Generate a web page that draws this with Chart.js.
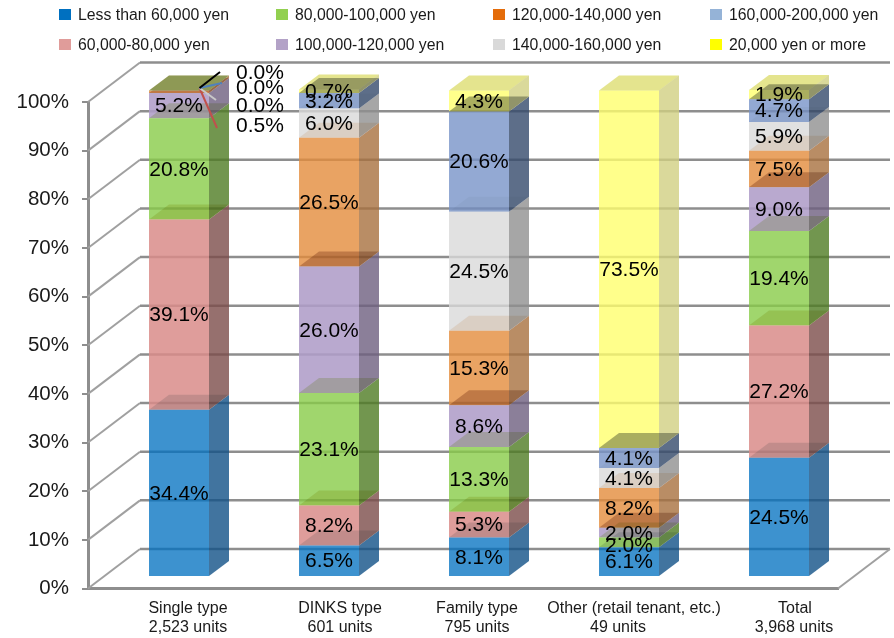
<!DOCTYPE html>
<html>
<head>
<meta charset="utf-8">
<title>Rent distribution by unit type</title>
<script src="https://cdn.jsdelivr.net/npm/chart.js@4"></script>
<style>
  html, body { margin: 0; padding: 0; background: #fff; }
  canvas { display: block; }
</style>
</head>
<body>
<canvas id="rentChart" width="894" height="638"></canvas>
<script>
// Unit types and the two-line captions under each column
const categories = ['Single type', 'DINKS type', 'Family type', 'Other (retail tenant, etc.)', 'Total'];
const unitCounts = ['2,523 units', '601 units', '795 units', '49 units', '3,968 units'];

const rentBands = [
    'Less than 60,000 yen', '60,000-80,000 yen', '80,000-100,000 yen', '100,000-120,000 yen',
    '120,000-140,000 yen', '140,000-160,000 yen', '160,000-200,000 yen', '20,000 yen or more'
];

// Share of units per rent band, in percent, one value per unit type
const lessThan60k = [34.4, 6.5, 8.1, 6.1, 24.5];
const from60kTo80k = [39.1, 8.2, 5.3, 0.0, 27.2];
const from80kTo100k = [20.8, 23.1, 13.3, 2.0, 19.4];
const from100kTo120k = [5.2, 26.0, 8.6, 2.0, 9.0];
const from120kTo140k = [0.5, 26.5, 15.3, 8.2, 7.5];
const from140kTo160k = [0.0, 6.0, 24.5, 4.1, 5.9];
const from160kTo200k = [0.0, 3.2, 20.6, 4.1, 4.7];
const orMore = [0.0, 0.7, 4.3, 73.5, 1.9];
const bandValues = [lessThan60k, from60kTo80k, from80kTo100k, from100kTo120k,
    from120kTo140k, from140kTo160k, from160kTo200k, orMore];

const yTicks = [0, 10, 20, 30, 40, 50, 60, 70, 80, 90, 100];

// Colours, bottom band first
const swatchColors = ['#0070c0', '#e09c9a', '#92d050', '#b3a2c7', '#e46c0a', '#d9d9d9', '#95b3d7', '#ffff00'];
const frontColors = ['rgba(0,112,192,.76)', 'rgba(217,140,138,.85)', 'rgba(136,204,72,.8)', 'rgba(175,157,200,.88)',
    'rgba(228,140,60,.8)', 'rgba(217,217,217,.8)', 'rgba(120,148,200,.8)', 'rgba(255,255,110,.8)'];
const sideColors = ['rgba(17,81,135,.8)', 'rgba(124,76,74,.8)', 'rgba(79,124,35,.8)', 'rgba(110,95,128,.8)',
    'rgba(167,112,62,.8)', 'rgba(144,144,144,.8)', 'rgba(52,74,107,.8)', 'rgba(209,207,130,.8)'];
// Top faces are multiplied over whatever sits behind them
const topColors = ['rgb(222,227,229)', 'rgb(237,231,194)', 'rgb(224,237,199)', 'rgb(209,189,179)',
    'rgb(247,235,222)', 'rgb(247,247,247)', 'rgb(170,174,174)', 'rgb(228,228,142)'];
const emptyTopColor = 'rgb(142,153,85)';

const FONT = '"Liberation Sans", Arial, sans-serif';
const GRID = '#8e8e8e';

// Depth of the box, and of each column inside it
const wallDx = 52, wallDy = 39.5;
const barShiftX = 16, barShiftY = -11.5;
const barDx = 20, barDy = 15;

// Legend is two rows, filled column by column
const legendColumns = [59, 276, 493, 710];
const legendRows = [15, 45];

// Caption offsets from the column centre: [first line, second line]
const captionNudge = [[25, 25], [27, 27], [14, 14], [21, 5], [32, 31]];

// Callouts for the thin bands on top of the single type column
const calloutOrigin = [199.5, 88];
const callouts = [
    { band: 4, text: [260, 126], end: [217, 128], color: '#c0504d' },
    { band: 5, text: [260, 106], end: [216, 100], color: '#c8c8c8' },
    { band: 6, text: [260, 88], end: [222, 83], color: '#4f81bd' },
    { band: 7, text: [260, 73], end: [220, 72], color: '#000000' }
];

function poly(ctx, pts) {
    ctx.beginPath();
    pts.forEach((p, i) => i ? ctx.lineTo(p[0], p[1]) : ctx.moveTo(p[0], p[1]));
    ctx.closePath();
}

function line(ctx, x1, y1, x2, y2) {
    ctx.beginPath();
    ctx.moveTo(x1, y1);
    ctx.lineTo(x2, y2);
    ctx.stroke();
}

// White page, chart box lines and the sides of the columns go under the bars
const boxPlugin = {
    id: 'box3d',
    beforeDraw(chart) {
        const ctx = chart.ctx;
        ctx.save();
        ctx.fillStyle = '#fff';
        ctx.fillRect(0, 0, chart.width, chart.height);

        ctx.font = '15.8px ' + FONT;
        ctx.textBaseline = 'middle';
        ctx.textAlign = 'left';
        rentBands.forEach((name, i) => {
            const col = legendColumns[Math.floor(i / 2)];
            const y = legendRows[i % 2];
            ctx.fillStyle = swatchColors[i];
            ctx.fillRect(col, y - 6, 12, 11);
            ctx.fillStyle = '#1a1a1a';
            ctx.fillText(name, col + 19, y + 1);
        });
        ctx.restore();
    },
    beforeDatasetsDraw(chart) {
        const ctx = chart.ctx;
        const area = chart.chartArea;
        const yScale = chart.scales.y;
        ctx.save();
        yTicks.forEach(v => {
            const y = yScale.getPixelForValue(v);
            ctx.lineWidth = 2;
            ctx.strokeStyle = '#a0a0a0';
            line(ctx, area.left, y, area.left + wallDx, y - wallDy);
            ctx.lineWidth = 2.5;
            ctx.strokeStyle = GRID;
            line(ctx, area.left + wallDx, y - wallDy, area.right + wallDx, y - wallDy);
        });
        ctx.lineWidth = 2;
        ctx.strokeStyle = '#a0a0a0';
        line(ctx, area.right, area.bottom, area.right + wallDx, area.bottom - wallDy);

        // Side faces
        chart.data.datasets.forEach((ds, i) => {
            chart.getDatasetMeta(i).data.forEach(bar => {
                if (bar.height <= 0) return;
                const x = bar.x + bar.width / 2 + barShiftX;
                const top = bar.y + barShiftY;
                const bottom = bar.base + barShiftY;
                ctx.fillStyle = sideColors[i];
                poly(ctx, [[x, top], [x + barDx, top - barDy], [x + barDx, bottom - barDy], [x, bottom]]);
                ctx.fill();
            });
        });

        // Front faces come from the bar elements, moved into the box
        ctx.restore();
        ctx.save();
        ctx.translate(barShiftX, barShiftY);
    },
    afterDatasetsDraw(chart) {
        const ctx = chart.ctx;
        ctx.restore();
        ctx.save();
        const count = chart.data.datasets.length;
        chart.data.datasets.forEach((ds, i) => {
            chart.getDatasetMeta(i).data.forEach((bar, j) => {
                const empty = ds.data[j] === 0;
                if (empty && i < count - 1) return;
                const left = bar.x - bar.width / 2 + barShiftX;
                const right = left + bar.width;
                const top = bar.y + barShiftY;
                ctx.globalCompositeOperation = empty ? 'source-over' : 'multiply';
                ctx.fillStyle = empty ? emptyTopColor : topColors[i];
                poly(ctx, [[left, top], [right, top], [right + barDx, top - barDy], [left + barDx, top - barDy]]);
                ctx.fill();
            });
        });
        ctx.restore();
    },
    afterDraw(chart) {
        const ctx = chart.ctx;
        const xScale = chart.scales.x;
        ctx.save();

        // Value labels centred on each front face
        ctx.font = '21px ' + FONT;
        ctx.fillStyle = '#000';
        ctx.textAlign = 'center';
        ctx.textBaseline = 'middle';
        chart.data.datasets.forEach((ds, i) => {
            chart.getDatasetMeta(i).data.forEach((bar, j) => {
                const value = ds.data[j];
                if (j === 0 && i >= 4) return;
                if (value === 0) return;
                const p = bar.getCenterPoint();
                // the two 2.0% labels in the other column sit a little apart
                const apart = j === 3 && i === 2 ? 3 : 0;
                ctx.fillText(value.toFixed(1) + '%', p.x + barShiftX, p.y + barShiftY + 1 + apart);
            });
        });

        // Thin bands get leader lines instead
        callouts.forEach(c => {
            ctx.strokeStyle = c.color;
            ctx.lineWidth = 2;
            line(ctx, calloutOrigin[0], calloutOrigin[1], c.end[0], c.end[1]);
            ctx.fillText(bandValues[c.band][0].toFixed(1) + '%', c.text[0], c.text[1]);
        });

        // Column captions
        ctx.font = '16px ' + FONT;
        ctx.fillStyle = '#1a1a1a';
        categories.forEach((name, j) => {
            const x = xScale.getPixelForValue(j);
            ctx.fillText(name, x + captionNudge[j][0], 609);
            ctx.fillText(unitCounts[j], x + captionNudge[j][1], 628);
        });
        ctx.restore();
    }
};

new Chart(document.getElementById('rentChart').getContext('2d'), {
    type: 'bar',
    data: {
        labels: categories,
        datasets: rentBands.map((name, i) => ({
            label: name,
            data: bandValues[i],
            backgroundColor: frontColors[i],
            borderWidth: 0,
            clip: false,
            categoryPercentage: 1,
            barPercentage: 0.4
        }))
    },
    options: {
        responsive: false,
        animation: false,
        layout: { padding: { top: 102, right: 56, left: 0, bottom: 0 } },
        plugins: { legend: { display: false }, tooltip: { enabled: false } },
        scales: {
            x: {
                stacked: true,
                afterFit(scale) { scale.height = 49.5; },
                grid: { display: false },
                border: { display: true, color: GRID, width: 3 },
                ticks: { display: false }
            },
            y: {
                stacked: true,
                min: 0,
                max: 100,
                afterFit(scale) { scale.width = 88; },
                afterBuildTicks(scale) { scale.ticks = yTicks.map(v => ({ value: v })); },
                grid: { drawOnChartArea: false, drawTicks: true, tickLength: 6, color: GRID, lineWidth: 2 },
                border: { display: true, color: GRID, width: 3 },
                ticks: {
                    padding: 13,
                    color: '#1a1a1a',
                    font: { family: FONT, size: 20.5 },
                    callback: v => v + '%'
                }
            }
        }
    },
    plugins: [boxPlugin]
});
</script>
</body>
</html>
